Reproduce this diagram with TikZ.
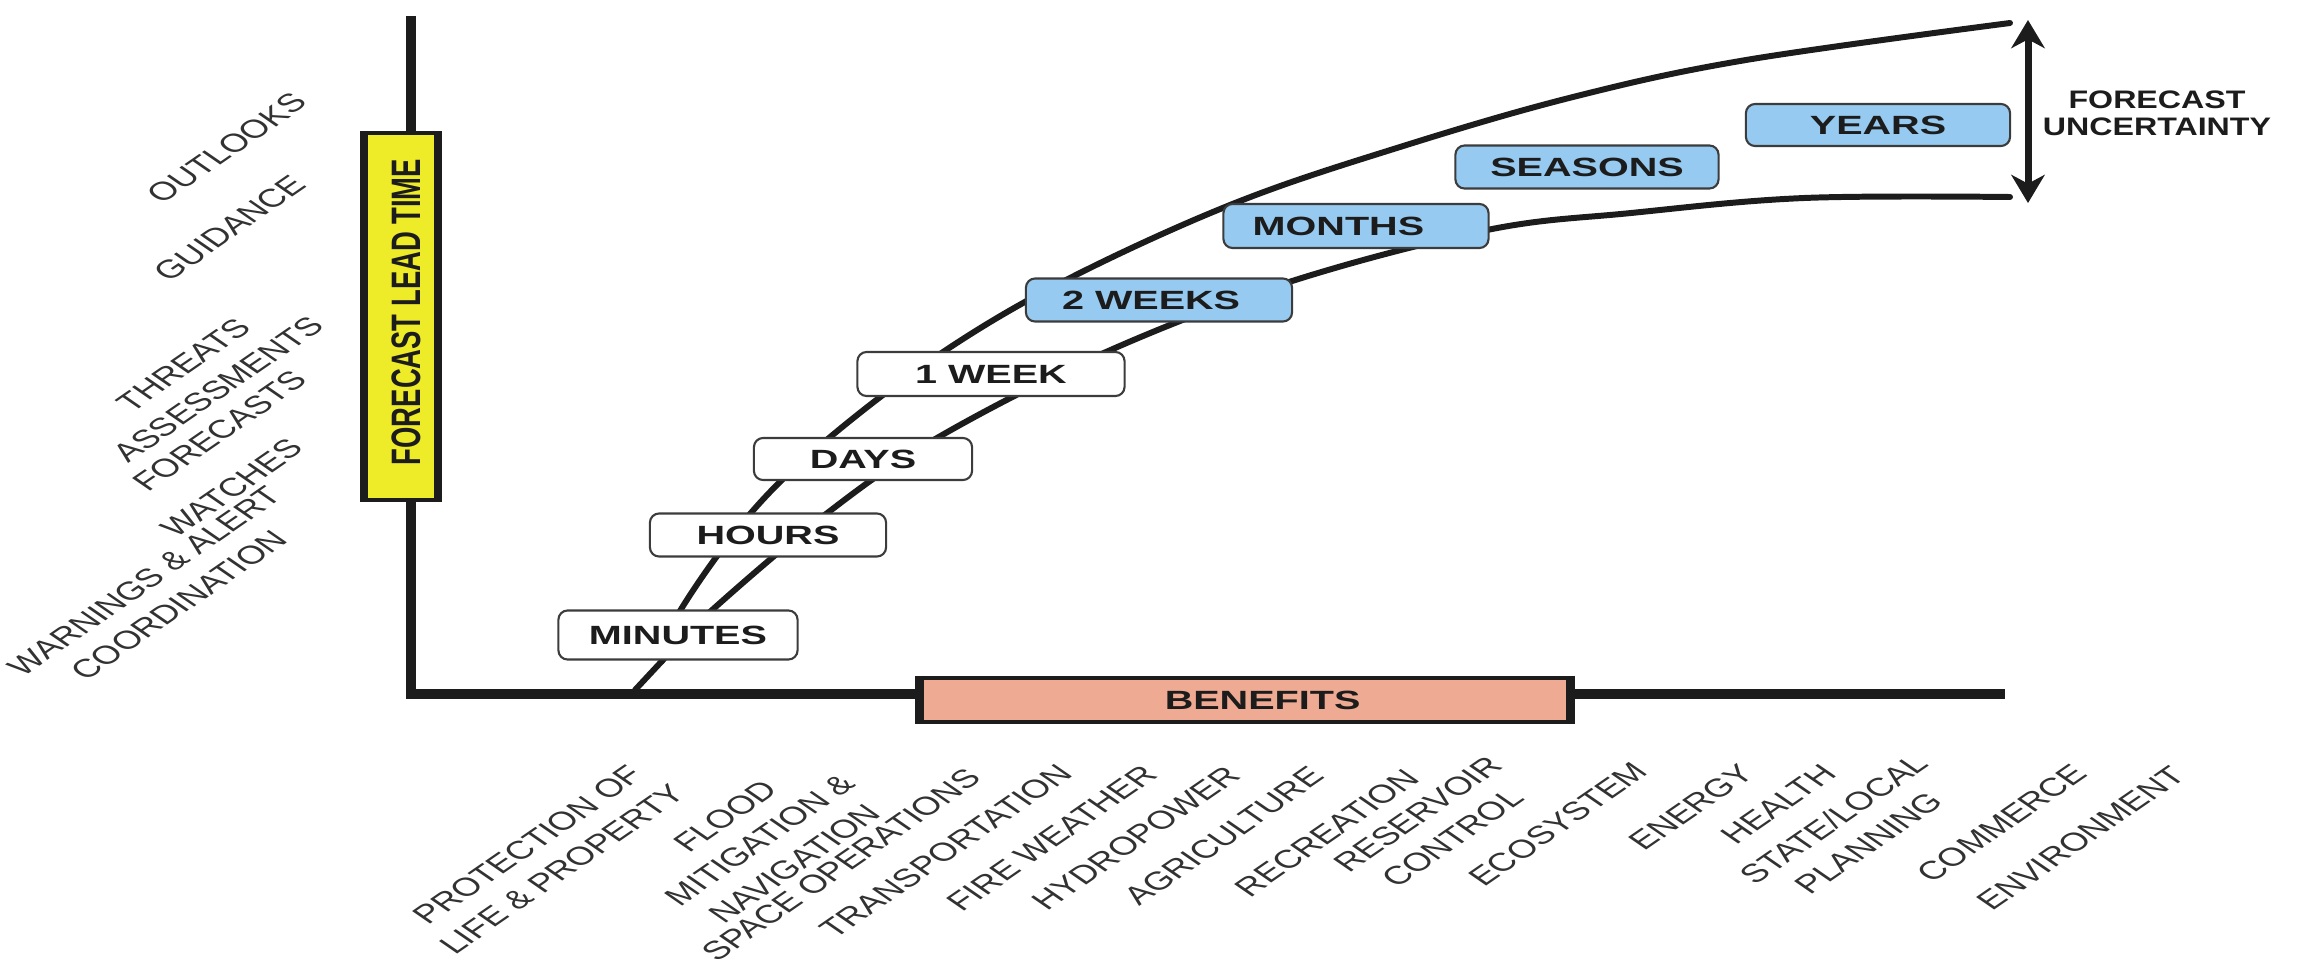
\documentclass[tikz,border=0pt]{standalone}
\usepackage{fontspec}
\setmainfont{Liberation Sans}
\usepackage{graphicx}
\usetikzlibrary{arrows.meta}

\definecolor{ink}{RGB}{28,28,28}
\definecolor{labink}{RGB}{50,50,50}
\definecolor{ylw}{RGB}{238,236,40}
\definecolor{salmon}{RGB}{238,170,146}
\definecolor{sky}{RGB}{150,202,240}
\definecolor{edge}{RGB}{60,60,60}

\newcommand{\hsc}[1]{\scalebox{1.5}[1]{#1}}

\begin{document}
\begin{tikzpicture}[x=0.01cm, y=-0.01cm,
  axisline/.style={line width=2.9pt, draw=ink},
  curveline/.style={line width=1.7pt, draw=ink, line cap=round},
  tbox/.style={draw=edge, line width=0.6pt, rounded corners=2.6pt, fill=white,
    inner sep=0pt, font=\fontsize{7.5}{9}\selectfont\bfseries, text=ink},
  bbox/.style={tbox, fill=sky},
  rlab/.style={font=\fontsize{7.3}{9.6}\selectfont, text=labink, align=center,
    inner sep=0pt, xscale=1.45, rotate=45, transform shape},
]
\useasboundingbox (0,0) rectangle (2305,966);

% axes
\coordinate (otop) at (411,16);
\coordinate (orig) at (411,694);
\coordinate (xend) at (2005,694);
\draw[axisline, line join=miter] (otop) -- (orig) -- (xend);

% curves
\coordinate (cstart) at (635,690);
\coordinate (csplit) at (662,661);
\draw[curveline] (cstart) -- (csplit);
\draw[curveline] plot[smooth, tension=0.6] coordinates {(662,661) (680,611) (750,514) (829,438) (943,352) (1068,279) (1235,203) (1400,147) (1573,97) (1746,60) (2010,23)};
\draw[curveline] plot[smooth, tension=0.6] coordinates {(662,661) (711,611) (826,514) (937,438) (1106,352) (1289,282) (1487,230) (1631,213) (1804,198) (2010,197)};

% time boxes
\node[tbox, minimum width=2.39cm, minimum height=0.49cm] (minutes) at (678,635) {\hsc{MINUTES}};
\node[tbox, minimum width=2.36cm, minimum height=0.43cm] (hours) at (768,535) {\hsc{HOURS}};
\node[tbox, minimum width=2.18cm, minimum height=0.42cm] (days) at (863,459) {\hsc{DAYS}};
\node[tbox, minimum width=2.67cm, minimum height=0.44cm] (week) at (991,374) {\hsc{1 WEEK}};
\node[bbox, minimum width=2.66cm, minimum height=0.43cm] (weeks) at (1159,300) {\hsc{2 WEEKS}\kern4.5pt};
\node[bbox, minimum width=2.65cm, minimum height=0.44cm] (months) at (1356,226) {\hsc{MONTHS}\kern10pt};
\node[bbox, minimum width=2.63cm, minimum height=0.43cm] (seasons) at (1587,167) {\hsc{SEASONS}};
\node[bbox, minimum width=2.64cm, minimum height=0.42cm] (years) at (1878,125) {\hsc{YEARS}};

% forecast lead time box
\node[draw=ink, line width=1.2pt, fill=ylw, minimum width=0.70cm, minimum height=3.67cm, inner sep=0pt] (lead) at (401,316.5) {};
\draw[ink, line width=2.4pt] (lead.north west) -- (lead.south west);
\draw[ink, line width=2.4pt] (lead.north east) -- (lead.south east);
\node[font=\fontsize{7.8}{9}\selectfont\bfseries, text=ink, inner sep=0pt, xscale=1.5, rotate=90, transform shape] (leadtxt) at (406,312) {FORECAST LEAD TIME};

% benefits box
\node[draw=ink, line width=1.3pt, fill=salmon, minimum width=6.46cm, minimum height=0.44cm, inner sep=0pt, font=\fontsize{7.5}{9}\selectfont\bfseries, text=ink] (benefits) at (1245,700) {\kern10pt\hsc{BENEFITS}};
\draw[ink, line width=2.6pt] (benefits.north west) -- (benefits.south west);
\draw[ink, line width=2.6pt] (benefits.north east) -- (benefits.south east);

% uncertainty arrow
\coordinate (ut) at (2028,20);
\coordinate (ub) at (2028,203);
\draw[ink, line width=2pt, {Stealth[length=8pt,width=9.5pt,inset=2.5pt]}-{Stealth[length=8pt,width=9.5pt,inset=2.5pt]}] (ub) -- (ut);
\node[font=\fontsize{7.2}{7.7}\selectfont\bfseries, text=ink, align=center, inner sep=0pt, xscale=1.27, transform shape] (unc) at (2157,113) {FORECAST\\UNCERTAINTY};

% left labels
\node[rlab] (l1) at (227,148) {OUTLOOKS};
\node[rlab] (l2) at (230,228) {GUIDANCE};
\node[rlab] (l3) at (201,377) {THREATS\\ASSESSMENTS};
\node[rlab] (l4) at (220,431) {FORECASTS};
\node[rlab] (l5) at (232,488) {WATCHES};
\node[rlab] (l6) at (162,593) {WARNINGS \& ALERT\\COORDINATION};

% bottom labels
\node[rlab] (b1) at (545,857) {PROTECTION OF\\LIFE \& PROPERTY};
\node[rlab] (b2) at (760,840) {FLOOD\\MITIGATION \&\\NAVIGATION};
\node[rlab] (b3) at (841,865) {SPACE OPERATIONS};
\node[rlab] (b4) at (946,851) {TRANSPORTATION};
\node[rlab] (b5) at (1052,838) {FIRE WEATHER};
\node[rlab] (b6) at (1136,838) {HYDROPOWER};
\node[rlab] (b7) at (1224,836) {AGRICULTURE};
\node[rlab] (b8) at (1327,833) {RECREATION};
\node[rlab] (b9) at (1435,826) {RESERVOIR\\CONTROL};
\node[rlab] (b10) at (1558,824) {ECOSYSTEM};
\node[rlab] (b11) at (1691,807) {ENERGY};
\node[rlab] (b12) at (1778,804) {HEALTH};
\node[rlab] (b13) at (1851,831) {STATE/LOCAL\\PLANNING};
\node[rlab] (b14) at (2002,823) {COMMERCE};
\node[rlab] (b15) at (2081,838) {ENVIRONMENT};
\end{tikzpicture}
\end{document}
